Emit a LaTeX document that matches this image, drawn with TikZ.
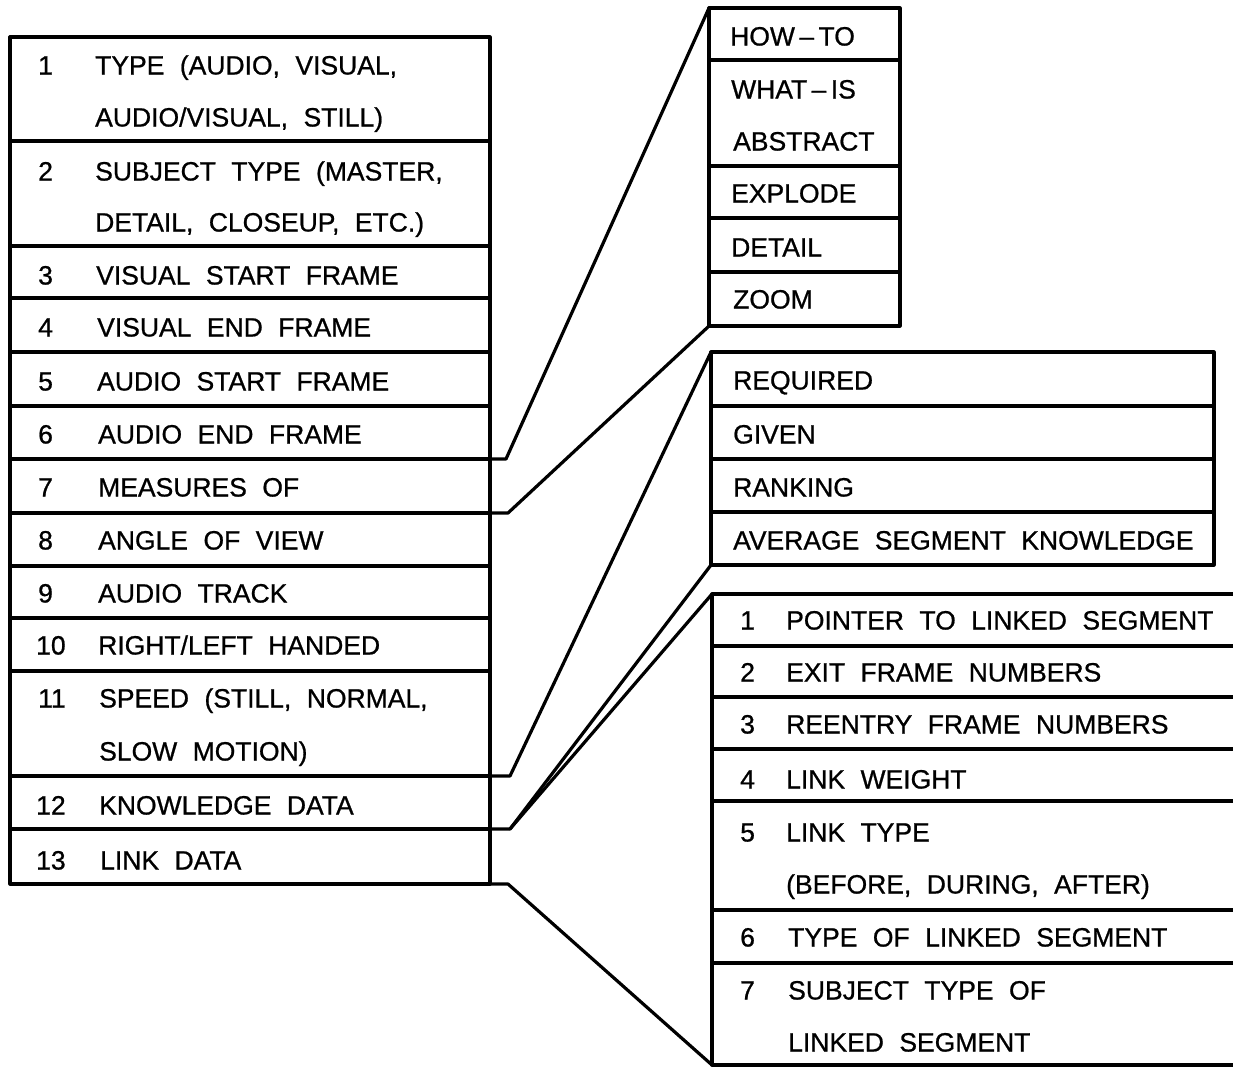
\documentclass[tikz,border=0pt]{standalone}
\usepackage{fontspec}
\setmainfont{Liberation Sans}[WordSpace=2.1, FakeBold=0.8]
\begin{document}
\begin{tikzpicture}[x=1pt,y=-1pt,
  cell/.style={draw, line width=3.2pt, inner sep=0pt, outer sep=0pt, line join=round},
  txt/.style={anchor=base west, inner sep=0pt, font=\fontsize{26.5}{30}\selectfont},
  conn/.style={line width=3.2pt, line join=round, line cap=round}]
\clip (0,0) rectangle (1233,1068);
\fill[white] (0,0) rectangle (1233,1068);
% ---------- left table ----------
\node[cell, minimum width=480pt, minimum height=104pt] (L1) at (250,89) {};
\node[cell, minimum width=480pt, minimum height=105pt] (L2) at (250,193.5) {};
\node[cell, minimum width=480pt, minimum height=52pt] (L3) at (250,272) {};
\node[cell, minimum width=480pt, minimum height=54pt] (L4) at (250,325) {};
\node[cell, minimum width=480pt, minimum height=54pt] (L5) at (250,379) {};
\node[cell, minimum width=480pt, minimum height=53pt] (L6) at (250,432.5) {};
\node[cell, minimum width=480pt, minimum height=54pt] (L7) at (250,486) {};
\node[cell, minimum width=480pt, minimum height=53pt] (L8) at (250,539.5) {};
\node[cell, minimum width=480pt, minimum height=52pt] (L9) at (250,592) {};
\node[cell, minimum width=480pt, minimum height=53pt] (L10) at (250,644.5) {};
\node[cell, minimum width=480pt, minimum height=105pt] (L11) at (250,723.5) {};
\node[cell, minimum width=480pt, minimum height=53pt] (L12) at (250,802.5) {};
\node[cell, minimum width=480pt, minimum height=55pt] (L13) at (250,856.5) {};
% left texts
\node[txt] (L1n) at (38,74.5) {1};
\node[txt] (L1a) at (95,74.5) {TYPE (AUDIO, VISUAL,};
\node[txt] (L1b) at (95,126.5) {AUDIO/VISUAL, STILL)};
\node[txt] (L2n) at (38,180.5) {2};
\node[txt] (L2a) at (95,180.5) {SUBJECT TYPE (MASTER,};
\node[txt] (L2b) at (95,231.5) {DETAIL, CLOSEUP, ETC.)};
\node[txt] (L3n) at (38,284.5) {3};
\node[txt] (L3a) at (96,284.5) {VISUAL START FRAME};
\node[txt] (L4n) at (38,336.5) {4};
\node[txt] (L4a) at (97,336.5) {VISUAL END FRAME};
\node[txt] (L5n) at (38,390.5) {5};
\node[txt] (L5a) at (97,390.5) {AUDIO START FRAME};
\node[txt] (L6n) at (38,443.5) {6};
\node[txt] (L6a) at (98,443.5) {AUDIO END FRAME};
\node[txt] (L7n) at (38,496.5) {7};
\node[txt] (L7a) at (98,496.5) {MEASURES OF};
\node[txt] (L8n) at (38,549.5) {8};
\node[txt] (L8a) at (98,549.5) {ANGLE OF VIEW};
\node[txt] (L9n) at (38,602.5) {9};
\node[txt] (L9a) at (98,602.5) {AUDIO TRACK};
\node[txt] (L10n) at (36,654.5) {10};
\node[txt] (L10a) at (98,654.5) {RIGHT/LEFT HANDED};
\node[txt] (L11n) at (38,707.5) {11};
\node[txt] (L11a) at (99,707.5) {SPEED (STILL, NORMAL,};
\node[txt] (L11b) at (99,760.5) {SLOW MOTION)};
\node[txt] (L12n) at (36,814.5) {12};
\node[txt] (L12a) at (99,814.5) {KNOWLEDGE DATA};
\node[txt] (L13n) at (36,869.5) {13};
\node[txt] (L13a) at (100,869.5) {LINK DATA};
% ---------- small table ----------
\node[cell, minimum width=191pt, minimum height=52pt] (S1) at (804.5,34) {};
\node[cell, minimum width=191pt, minimum height=106pt] (S2) at (804.5,113) {};
\node[cell, minimum width=191pt, minimum height=52pt] (S3) at (804.5,192) {};
\node[cell, minimum width=191pt, minimum height=54pt] (S4) at (804.5,245) {};
\node[cell, minimum width=191pt, minimum height=54pt] (S5) at (804.5,299) {};
\node[txt] (S1a) at (730,45.5) {HOW\,–\,TO};
\node[txt] (S2a) at (731,98.5) {WHAT\,–\,IS};
\node[txt] (S2b) at (733,150.5) {ABSTRACT};
\node[txt] (S3a) at (731,202.5) {EXPLODE};
\node[txt] (S4a) at (731,256.5) {DETAIL};
\node[txt] (S5a) at (733,308.5) {ZOOM};
% ---------- knowledge table ----------
\node[cell, minimum width=503pt, minimum height=54pt] (K1) at (962.5,379) {};
\node[cell, minimum width=503pt, minimum height=53pt] (K2) at (962.5,432.5) {};
\node[cell, minimum width=503pt, minimum height=53pt] (K3) at (962.5,485.5) {};
\node[cell, minimum width=503pt, minimum height=53pt] (K4) at (962.5,538.5) {};
\node[txt] (K1a) at (733,389.5) {REQUIRED};
\node[txt] (K2a) at (733,443.5) {GIVEN};
\node[txt] (K3a) at (733,496.5) {RANKING};
\node[txt] (K4a) at (733,549.5) {AVERAGE SEGMENT KNOWLEDGE};
% ---------- link table ----------
\node[cell, minimum width=548pt, minimum height=52pt] (N1) at (986,620) {};
\node[cell, minimum width=548pt, minimum height=51pt] (N2) at (986,671.5) {};
\node[cell, minimum width=548pt, minimum height=52pt] (N3) at (986,723) {};
\node[cell, minimum width=548pt, minimum height=52pt] (N4) at (986,775) {};
\node[cell, minimum width=548pt, minimum height=109pt] (N5) at (986,855.5) {};
\node[cell, minimum width=548pt, minimum height=53pt] (N6) at (986,936.5) {};
\node[cell, minimum width=548pt, minimum height=102pt] (N7) at (986,1014) {};
\node[txt] (N1n) at (740,629.5) {1};
\node[txt] (N1a) at (786,629.5) {POINTER TO LINKED SEGMENT};
\node[txt] (N2n) at (740,681.5) {2};
\node[txt] (N2a) at (786,681.5) {EXIT FRAME NUMBERS};
\node[txt] (N3n) at (740,733.5) {3};
\node[txt] (N3a) at (786,733.5) {REENTRY FRAME NUMBERS};
\node[txt] (N4n) at (740,788.5) {4};
\node[txt] (N4a) at (786,788.5) {LINK WEIGHT};
\node[txt] (N5n) at (740,841.5) {5};
\node[txt] (N5a) at (786,841.5) {LINK TYPE};
\node[txt] (N5b) at (786,893.5) {(BEFORE, DURING, AFTER)};
\node[txt] (N6n) at (740,946.5) {6};
\node[txt] (N6a) at (788,946.5) {TYPE OF LINKED SEGMENT};
\node[txt] (N7n) at (740,999.5) {7};
\node[txt] (N7a) at (788,999.5) {SUBJECT TYPE OF};
\node[txt] (N7b) at (788,1051.5) {LINKED SEGMENT};
% ---------- connectors ----------
\draw[conn] (L7.north east) -- ++(16,0) -- (S1.north west);
\draw[conn] (L7.south east) -- ++(18,0) -- (S5.south west);
\draw[conn] (L12.north east) -- ++(20,0) -- (K1.north west);
\draw[conn] (L12.south east) -- ++(20,0) coordinate (j12) -- (K4.south west);
\draw[conn] (j12) -- (N1.north west);
\draw[conn] (L13.south east) -- ++(18,0) -- (N7.south west);
\end{tikzpicture}
\end{document}
